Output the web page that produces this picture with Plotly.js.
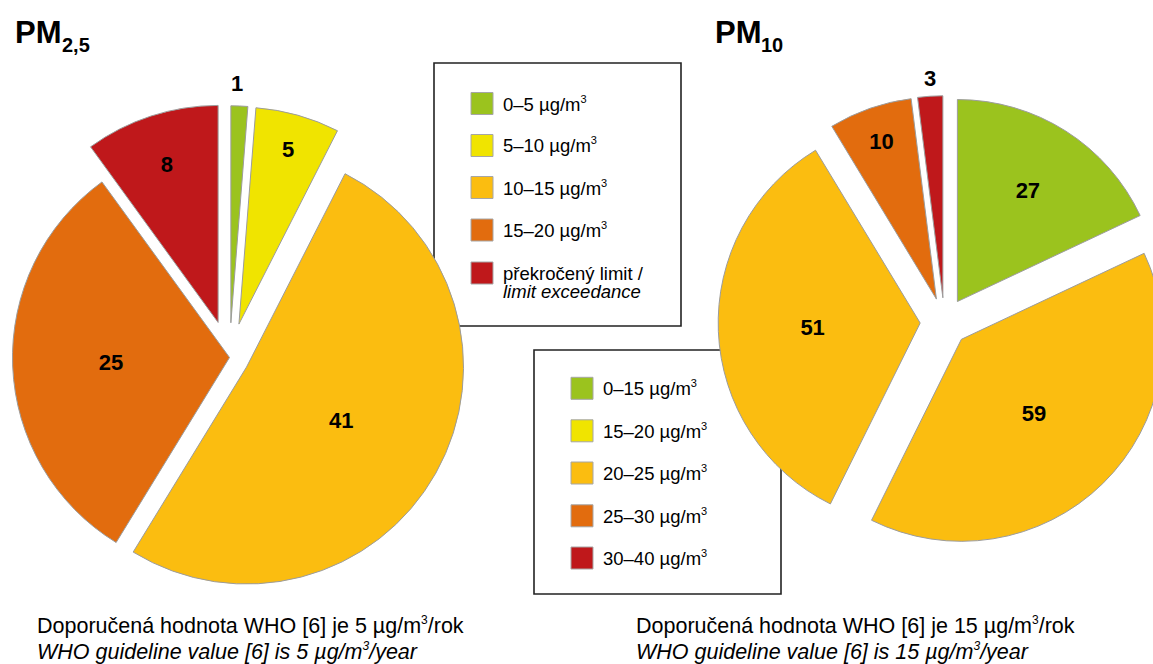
<!DOCTYPE html>
<html><head><meta charset="utf-8">
<script src="https://cdn.plot.ly/plotly-3.0.1.min.js"></script>
<style>
html,body{margin:0;padding:0;overflow:hidden;background:#fff;width:1153px;height:664px;}
#chart{position:absolute;left:-40px;top:0;width:1233px;height:664px;}
</style>
</head><body><div id="chart"></div>
<script>
// ---------- data ----------
const pm25Categories = ['0–5 µg/m³', '5–10 µg/m³', '10–15 µg/m³', '15–20 µg/m³', 'překročený limit / limit exceedance'];
const pm25Values = [1, 5, 41, 25, 8];
const pm10Categories = ['0–15 µg/m³', '15–20 µg/m³', '20–25 µg/m³', '25–30 µg/m³', '30–40 µg/m³'];
const pm10Values = [27, 59, 51, 10, 3];
const SUP3 = '<sup><span style="font-size:11px">3</span></sup>';
const pm25LegendLabels = ['0–5 µg/m' + SUP3, '5–10 µg/m' + SUP3, '10–15 µg/m' + SUP3, '15–20 µg/m' + SUP3, 'překročený limit /'];
const pm25LegendExtra = '<i>limit exceedance</i>';
const pm10LegendLabels = ['0–15 µg/m' + SUP3, '15–20 µg/m' + SUP3, '20–25 µg/m' + SUP3, '25–30 µg/m' + SUP3, '30–40 µg/m' + SUP3];
const pm25Title = ['PM', '2,5'];
const pm10Title = ['PM', '10'];
const SUP3B = '<sup><span style="font-size:12px">3</span></sup>';
const pm25Note = ['Doporučená hodnota WHO [6] je 5 µg/m' + SUP3B + '/rok', '<i>WHO guideline value [6] is 5 µg/m' + SUP3B + '/year</i>'];
const pm10Note = ['Doporučená hodnota WHO [6] je 15 µg/m' + SUP3B + '/rok', '<i>WHO guideline value [6] is 15 µg/m' + SUP3B + '/year</i>'];

// ---------- styles ----------
const GREEN = '#9bc31e', YELLOW = '#f0e400', ORYEL = '#fbbd10', DKOR = '#e26c0e', RED = '#bf181b';
const legendColors = [GREEN, YELLOW, ORYEL, DKOR, RED];
const pm25SliceColors = [GREEN, YELLOW, ORYEL, DKOR, RED];
const pm10SliceColors = [GREEN, ORYEL, ORYEL, DKOR, RED];
const pm25Pull = [0.16, 0.16, 0.09, 0, 0.17];
const pm10Pull = [0.12, 0.12, 0.12, 0.12, 0.12];
const FONT = 'Liberation Sans, Arial, sans-serif';

const L0 = -40, W = 1233, H = 664;
const px = x => (x - L0) / W;
const py = y => 1 - y / H;
function dom(cx, cy, r, maxPull) {
  const h = r * (1 + maxPull);
  return {x: [px(cx - h), px(cx + h)], y: [py(cy + h), py(cy - h)]};
}

const common = {
  type: 'pie', sort: false, direction: 'clockwise', rotation: 0,
  texttemplate: '%{value}', insidetextorientation: 'horizontal',
  textfont: {family: FONT, size: 22, color: '#000', weight: 'bold'},
  hoverinfo: 'skip', showlegend: false
};

const traces = [
  Object.assign({}, common, {
    labels: pm25Categories, values: pm25Values, pull: pm25Pull,
    marker: {colors: pm25SliceColors, line: {color: '#9c9c9c', width: 1}},
    textposition: ['none', 'inside', 'inside', 'inside', 'inside'],
    domain: dom(229.5, 357.5, 217, Math.max(...pm25Pull))
  }),
  Object.assign({}, common, {
    labels: pm10Categories, values: pm10Values, pull: pm10Pull,
    marker: {colors: pm10SliceColors, line: {color: '#9c9c9c', width: 1}},
    textposition: ['inside', 'inside', 'inside', 'inside', 'none'],
    domain: dom(944.4, 322, 202, Math.max(...pm10Pull))
  })
];

const shapes = [];
const annotations = [];
function ann(x, y, text, size, extra) {
  annotations.push(Object.assign({
    xref: 'paper', yref: 'paper', x: px(x), y: py(y), text: text, showarrow: false,
    xanchor: 'left', yanchor: 'middle', font: {family: FONT, size: size, color: '#000'}
  }, extra || {}));
}
function box(x0, y0, x1, y1) {
  shapes.push({type: 'rect', xref: 'paper', yref: 'paper', x0: px(x0), x1: px(x1), y0: py(y1), y1: py(y0),
    fillcolor: '#fff', line: {color: '#222', width: 1.6}, layer: 'below'});
}
function legend(labels, colors, swX, txtX, rows) {
  labels.forEach((lab, i) => {
    shapes.push({type: 'rect', xref: 'paper', yref: 'paper',
      x0: px(swX - 11), x1: px(swX + 11), y0: py(rows[i] + 11), y1: py(rows[i] - 11),
      fillcolor: colors[i], line: {color: '#a6a6a6', width: 1}, layer: 'above'});
    ann(txtX, rows[i], lab, 18.5);
  });
}

box(434, 63, 681, 326);
legend(pm25LegendLabels, legendColors, 482, 501, [103.5, 145.5, 187.5, 230, 273]);
ann(501, 292, pm25LegendExtra, 18.5);
box(534, 350, 781, 594);
legend(pm10LegendLabels, legendColors, 582, 601, [388.3, 430.8, 473, 515.8, 558]);

// titles (main + subscript)
ann(13, 32, '<b>' + pm25Title[0] + '</b>', 31);
ann(60, 45, '<b>' + pm25Title[1] + '</b>', 20);
ann(713, 32, '<b>' + pm10Title[0] + '</b>', 31);
ann(759, 45, '<b>' + pm10Title[1] + '</b>', 20);

// labels of the thin slices, placed above them
ann(237, 83, '<b>' + pm25Values[0] + '</b>', 22, {xanchor: 'center'});
ann(930, 78, '<b>' + pm10Values[4] + '</b>', 22, {xanchor: 'center'});

ann(35, 625, pm25Note[0], 21.5);
ann(35, 651, pm25Note[1], 21.5);
ann(634, 625, pm10Note[0], 21.5);
ann(634, 651, pm10Note[1], 21.5);

Plotly.newPlot('chart', traces, {
  width: W, height: H, margin: {l: 0, r: 0, t: 0, b: 0},
  paper_bgcolor: '#fff', plot_bgcolor: '#fff',
  shapes: shapes, annotations: annotations, showlegend: false,
  font: {family: FONT}
}, {staticPlot: true, displayModeBar: false});
</script>
</body></html>
